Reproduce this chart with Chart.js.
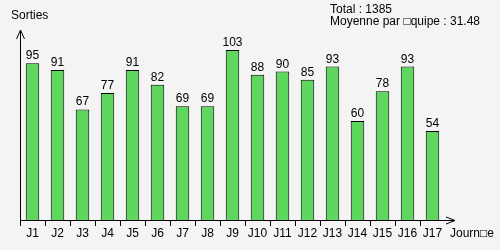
<!DOCTYPE html>
<html>
<head>
<meta charset="utf-8">
<script src="https://cdn.jsdelivr.net/npm/chart.js@4"></script>
<style>
  html, body { margin: 0; padding: 0; background: #f4f4f4; }
  #wrap { width: 500px; height: 250px; position: relative; }
</style>
</head>
<body>
<div id="wrap"><canvas id="chart" width="500" height="250"></canvas></div>
<script>
// Data
const days = ['J1','J2','J3','J4','J5','J6','J7','J8','J9','J10','J11','J12','J13','J14','J15','J16','J17'];
const sorties = [95, 91, 67, 77, 91, 82, 69, 69, 103, 88, 90, 85, 93, 60, 78, 93, 54];
const infoLines = ['Total : 1385', 'Moyenne par \u25A1quipe : 31.48'];
const yTitle = 'Sorties';
const xTitle = 'Journ\u25A1e';

const FONT = '12px "Liberation Sans", Arial, sans-serif';

// Axes, arrows, labels drawn on top of the bars
const decor = {
    id: 'decor',
    afterDatasetsDraw(chart) {
        const ctx = chart.ctx;
        const area = chart.chartArea;
        const x = chart.scales.x;
        const y = chart.scales.y;
        const x0 = area.left, y0 = area.bottom;

        ctx.save();
        ctx.strokeStyle = '#000';
        ctx.lineWidth = 1;

        // axes
        ctx.beginPath();
        ctx.moveTo(x0 + 0.5, y0 + 0.5);
        ctx.lineTo(x0 + 0.5, area.top);
        ctx.moveTo(x0, y0 + 0.5);
        ctx.lineTo(area.right + 10, y0 + 0.5);
        // arrow heads
        ctx.moveTo(x0 - 3.5, area.top + 9);
        ctx.lineTo(x0 + 0.5, area.top);
        ctx.lineTo(x0 + 4.5, area.top + 9);
        ctx.moveTo(area.right + 1, y0 - 3);
        ctx.lineTo(area.right + 10, y0 + 0.5);
        ctx.lineTo(area.right + 1, y0 + 4);
        // ticks at category boundaries
        const step = (area.right - area.left) / days.length;
        for (let i = 0; i < days.length; i++) {
            const tx = Math.round(x0 + i * step) + 0.5;
            ctx.moveTo(tx, y0);
            ctx.lineTo(tx, y0 + 6);
        }
        ctx.stroke();

        ctx.fillStyle = '#000';
        ctx.font = FONT;
        ctx.textBaseline = 'alphabetic';

        // category labels and values
        ctx.textAlign = 'center';
        days.forEach((d, i) => {
            const cx = x.getPixelForValue(i);
            ctx.fillText(d, cx, y0 + 17);
            ctx.fillText(String(sorties[i]), cx, y.getPixelForValue(sorties[i]) - 4);
        });

        // titles
        ctx.textAlign = 'left';
        ctx.fillText(yTitle, 11, 19);
        ctx.fillText(xTitle, 450, 237);
        ctx.fillText(infoLines[0], 330, 13);
        ctx.fillText(infoLines[1], 330, 25);
        ctx.restore();
    }
};

const bg = {
    id: 'bg',
    beforeDraw(chart) {
        const ctx = chart.ctx;
        ctx.save();
        ctx.fillStyle = '#f4f4f4';
        ctx.fillRect(0, 0, chart.width, chart.height);
        ctx.restore();
    }
};

new Chart(document.getElementById('chart'), {
    type: 'bar',
    data: {
        labels: days,
        datasets: [{
            data: sorties,
            backgroundColor: '#5fd75f',
            borderColor: '#000',
            borderWidth: 1,
            barPercentage: 0.54,
            categoryPercentage: 1.0
        }]
    },
    options: {
        responsive: false,
        animation: false,
        layout: { padding: { left: 20, right: 55, top: 30, bottom: 30 } },
        scales: {
            x: { display: false, offset: true },
            y: { display: false, min: 0, max: 115.2 }
        },
        plugins: {
            legend: { display: false },
            tooltip: { enabled: false }
        }
    },
    plugins: [bg, decor]
});
</script>
</body>
</html>
